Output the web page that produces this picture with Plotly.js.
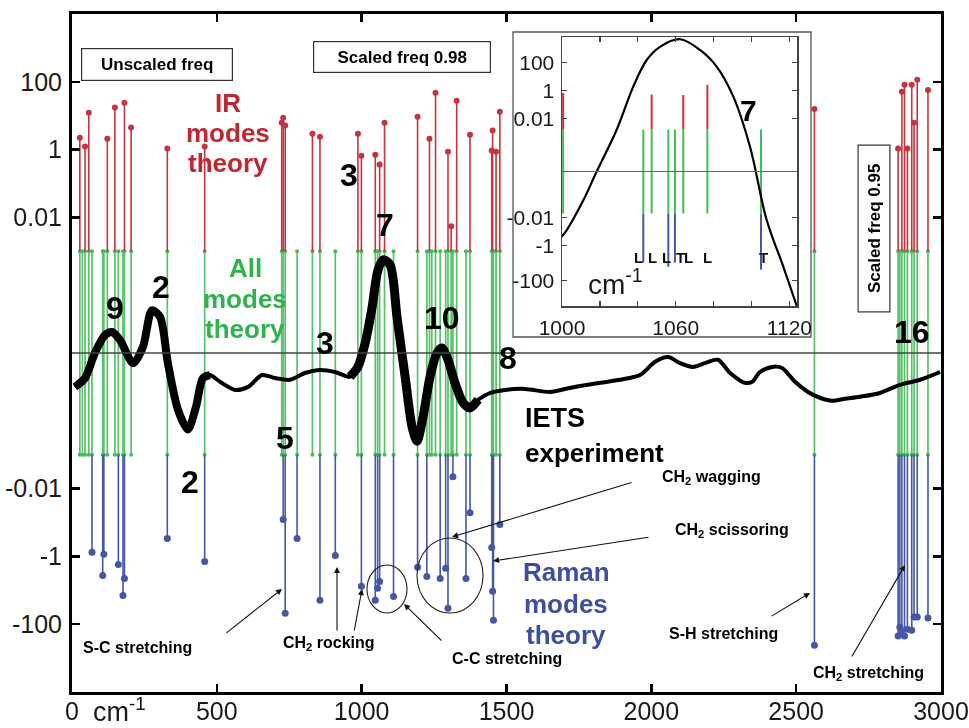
<!DOCTYPE html>
<html><head><meta charset="utf-8">
<script src="https://cdn.plot.ly/plotly-3.0.1.min.js"></script>
<style>html,body{margin:0;padding:0;background:#fff}#chart{width:969px;height:728px}</style>
</head><body><div id="chart"></div>
<script>
// ================= DATA =================
// Vibrational modes (cm^-1), log10 IR intensity and log10 Raman activity (null = not drawn)
const modeWn   = [27, 36, 45, 58, 69, 106, 110, 122, 148, 160, 176, 181, 204, 329, 458,
                  724, 729, 736, 777, 830, 856, 909, 987, 999, 1047, 1055, 1062, 1079, 1110,
                  1193, 1225, 1234, 1242, 1255, 1271, 1290, 1298, 1309, 1315, 1328, 1360, 1374,
                  1449, 1452, 1455, 1464, 1477, 2563,
                  2852, 2858, 2865, 2874, 2884, 2899, 2907, 2918, 2955];
const irLog    = [0.35, null, 0.09, 1.09, null, null, null, 0.32, 1.24, null, null, 1.38, 0.65, 0.03, 0.09,
                  0.79, 0.94, 0.71, null, 0.47, 0.38, null, 0.47, -0.18, -0.15, null, -0.44, 0.79, null,
                  0.97, null, 0.32, null, 1.68, null, null, -0.06, -2.26, null, 1.44, null, 0.44,
                  -0.03, 0.56, null, -0.06, 1.12, 1.2,
                  0.03, null, 1.71, 1.91, 0.03, 1.91, 0.79, 2.06, 1.76];
const ramanLog = [null, null, null, null, -0.12, 0.56, -0.06, null, null, 0.24, 1.15, 0.65, null, -0.53, 0.15,
                  null, -1.09, 1.68, -0.53, null, 1.29, -0.03, null, 0.88, 1.29, 0.94, 0.74, null, 1.18,
                  0.32, 0.59, null, null, null, 0.65, 0.35, 1.53, null, -2.35, null, 0.65, -1.29,
                  -0.26, 1.03, 1.88, null, -0.94, 2.62,
                  2.35, 2.09, 2.2, 2.35, 2.15, 2.18, 1.79, 1.79, 1.82];

// IETS experiment (arbitrary units)
const ietsWn = [10, 45, 79, 114, 138, 166, 211, 245, 276, 304, 331, 366, 400, 428, 452, 476, 511, 563, 608,
                656, 701, 753, 804, 856, 908, 960, 987, 1012, 1036, 1056, 1074, 1098, 1122, 1150, 1174,
                1191, 1212, 1236, 1260, 1277, 1298, 1322, 1350, 1374, 1402, 1443, 1495, 1564, 1650, 1719,
                1823, 1892, 1961, 2013, 2058, 2099, 2144, 2185, 2230, 2272, 2323, 2348, 2375, 2417, 2451,
                2496, 2541, 2582, 2624, 2669, 2720, 2789, 2858, 2928, 2997];
const ietsSignal = [-1.0, -0.74, 0.0, 0.53, 0.62, 0.38, -0.30, 0.18, 1.26, 1.06, -0.30, -1.68, -2.26, -1.59,
                -0.74, -0.65, -0.85, -1.09, -1.0, -0.65, -0.74, -0.79, -0.59, -0.50, -0.56, -0.70, -0.41,
                0.29, 1.35, 2.44, 2.75, 2.6, 1.06, -0.70, -2.18, -2.6, -1.88, -0.70, 0.0, 0.15, -0.20,
                -0.88, -1.47, -1.62, -1.38, -1.18, -1.09, -1.06, -1.15, -1.03, -0.88, -0.79, -0.65, -0.26,
                -0.12, -0.30, -0.41, -0.30, -0.20, -0.59, -0.88, -0.85, -0.56, -0.41, -0.44, -0.85, -1.15,
                -1.32, -1.41, -1.35, -1.29, -1.18, -0.94, -0.79, -0.56];

// Inset (1000-1120 cm^-1)
const insetModeWn    = [1000.6, 1042.9, 1047.3, 1056.1, 1059.6, 1064, 1076.7, 1105];
const insetIrLog     = [-0.4, null, -0.5, null, null, -0.54, 0.18, null];
const insetRamanLog  = [null, 0.5, null, 0.8, 0.5, null, null, 1.0];
const insetLabelWn   = [1040.6, 1047.5, 1055.4, 1062.3, 1067.0, 1077.0, 1106.3];
const insetLabelText = ['L', 'L', 'L', 'T', 'L', 'L', 'T'];
const insetWn     = [999.8, 1002.5, 1011.3, 1018.3, 1028.8, 1037.6, 1044.7, 1051.7, 1062.3, 1072.8,
                     1081.6, 1090.4, 1099.2, 1108, 1116.8, 1123.9];
const insetSignal = [-4.66, -4.18, -2.04, 0, 2.96, 6.06, 7.96, 8.9, 9.44, 8.68, 7.49, 5.34, 1.77, -3.46,
                     -6.8, -9.6];

// Tick labels
const xTickVals = [0, 500, 1000, 1500, 2000, 2500, 3000];
const yTickValues = [100, 1, 0.01, -0.01, -1, -100];
const insetXTickVals = [1000, 1020, 1040, 1060, 1080, 1100, 1120];
const insetXTickText = ['1000', '', '', '1060', '', '', '1120'];

// ================= MAPPING (split log display) =================
const irU = l => 6 + l;        // IR band (above)
const ramanU = l => -6 - l;    // Raman band (below)
const tickU = v => v > 0 ? irU(Math.log10(v)) : ramanU(Math.log10(-v));

const RED = '#c93340', GREEN = '#45bb5a', BLUE = '#4556a8';
const FONT = 'Liberation Sans, Arial, Helvetica, sans-serif';

function stemTrace(xs, ys0, ys1, color, width, xa, ya, opacity) {
  const x = [], y = [];
  xs.forEach((w, i) => {
    if (ys1[i] === null) return;
    x.push(w, w, null); y.push(ys0[i], ys1[i], null);
  });
  return {type: 'scatter', mode: 'lines', x, y, xaxis: xa, yaxis: ya,
          line: {color, width}, opacity: opacity || 1, hoverinfo: 'skip', showlegend: false};
}
function dotTrace(xs, ys, color, size, xa, ya) {
  const x = [], y = [];
  xs.forEach((w, i) => { if (ys[i] !== null) { x.push(w); y.push(ys[i]); } });
  return {type: 'scatter', mode: 'markers', x, y, xaxis: xa, yaxis: ya, cliponaxis: false,
          marker: {color, size, line: {width: 0}}, hoverinfo: 'skip', showlegend: false};
}

const traces = [];
// ---- main: all modes (green) ----
const gTop = modeWn.map(() => 3), gBot = modeWn.map(() => -3);
traces.push(stemTrace(modeWn, gBot, gTop, GREEN, 1.7, 'x', 'y', 0.9));
traces.push(dotTrace(modeWn, gTop, GREEN, 4, 'x', 'y'));
traces.push(dotTrace(modeWn, gBot, GREEN, 4, 'x', 'y'));
// IR (red)
const irTop = irLog.map(l => l === null ? null : irU(l));
traces.push(stemTrace(modeWn, gTop, irTop, RED, 1.6, 'x', 'y'));
traces.push(dotTrace(modeWn, irTop, RED, 6, 'x', 'y'));
// Raman (blue)
const raBot = ramanLog.map(l => l === null ? null : ramanU(l));
traces.push(stemTrace(modeWn, gBot, raBot, BLUE, 1.6, 'x', 'y'));
traces.push(dotTrace(modeWn, raBot, BLUE, 7, 'x', 'y'));
// IETS curve
traces.push({type: 'scatter', mode: 'lines', x: ietsWn, y: ietsSignal, xaxis: 'x', yaxis: 'y',
  line: {color: '#000', width: 4, shape: 'spline', smoothing: 0.8}, hoverinfo: 'skip', showlegend: false});
function subCurve(lo, hi, width) {
  const x = [], y = [];
  ietsWn.forEach((w, i) => { if (w >= lo && w <= hi) { x.push(w); y.push(ietsSignal[i]); } });
  traces.push({type: 'scatter', mode: 'lines', x, y, xaxis: 'x', yaxis: 'y',
    line: {color: '#000', width, shape: 'spline', smoothing: 0.8}, hoverinfo: 'skip', showlegend: false});
}
subCurve(0, 480, 8);
subCurve(960, 1410, 9);

// ---- inset ----
const iTop = insetModeWn.map(() => 3), iBot = insetModeWn.map(() => -3);
traces.push(stemTrace(insetModeWn, iBot, iTop, GREEN, 2, 'x2', 'y2'));
traces.push(stemTrace(insetModeWn, iTop, insetIrLog.map(l => l === null ? null : irU(l)), RED, 2, 'x2', 'y2'));
traces.push(stemTrace(insetModeWn, iBot, insetRamanLog.map(l => l === null ? null : ramanU(l)), BLUE, 2, 'x2', 'y2'));
traces.push({type: 'scatter', mode: 'lines', x: insetWn, y: insetSignal, xaxis: 'x2', yaxis: 'y2',
  line: {color: '#000', width: 2.2, shape: 'spline', smoothing: 1}, hoverinfo: 'skip', showlegend: false});

// ================= LAYOUT =================
const W = 969, H = 728, ML = 72, MR = 28, MT = 14, MB = 36;
const PW = W - ML - MR, PH = H - MT - MB;
const px = x => (x - ML) / PW;
const py = y => (H - MB - y) / PH;

const ann = [];
function txt(x, y, text, size, color, opts) {
  ann.push(Object.assign({xref: 'paper', yref: 'paper', x: px(x), y: py(y), text,
    showarrow: false, xanchor: 'center', yanchor: 'middle',
    font: {family: FONT, size, color: color || '#000'}}, opts || {}));
}
function arrow(tx, ty, hx, hy) {
  ann.push({xref: 'paper', yref: 'paper', x: px(hx), y: py(hy), ax: tx - hx, ay: ty - hy,
    text: '', showarrow: true, arrowhead: 2, arrowsize: 1.1, arrowwidth: 1.1, arrowcolor: '#111'});
}
// boxes
txt(157, 64.5, '<b>Unscaled freq</b>', 17, '#000', {bordercolor: '#333', borderwidth: 1.2, borderpad: 0, bgcolor: '#fff', width: 150, height: 31});
txt(401.5, 57, '<b>Scaled freq 0.98</b>', 17, '#000', {bordercolor: '#333', borderwidth: 1.2, borderpad: 0, bgcolor: '#fff', width: 176, height: 30});
txt(874.5, 229, '<b>Scaled freq 0.95</b>', 17, '#000', {bordercolor: '#333', borderwidth: 1.2, borderpad: 0, bgcolor: '#fff', width: 166, height: 31, textangle: -90});
// band labels
['IR', 'modes', 'theory'].forEach((t, i) => txt(228, 103 + i * 30, '<b>' + t + '</b>', 26, '#c3262f'));
['All', 'modes', 'theory'].forEach((t, i) => txt(245, 268 + i * 30.5, '<b>' + t + '</b>', 26, '#2fb34d'));
['Raman', 'modes', 'theory'].forEach((t, i) => txt(566, 572 + i * 31.5, '<b>' + t + '</b>', 26, '#3d4fa3'));
txt(523, 418, '<b>IETS</b>', 27, '#000', {xanchor: 'left'});
txt(523, 453, '<b>experiment</b>', 26, '#000', {xanchor: 'left'});
// peak numbers
[[115, 308, '9'], [161, 287, '2'], [190, 482, '2'], [285, 438, '5'], [349, 175, '3'], [325, 343, '3'],
 [385, 225, '7'], [442, 318, '10'], [508, 358, '8'], [912, 332, '16']].forEach(p => txt(p[0], p[1], '<b>' + p[2] + '</b>', 32));
// mode assignment labels
txt(137, 647, '<b>S-C stretching</b>', 16);
txt(329, 643, '<b>CH<sub>2</sub> rocking</b>', 16);
txt(507, 658, '<b>C-C stretching</b>', 16);
txt(711, 477, '<b>CH<sub>2</sub> wagging</b>', 16);
txt(732, 530, '<b>CH<sub>2</sub> scissoring</b>', 16);
txt(723, 633, '<b>S-H stretching</b>', 16);
txt(868, 673, '<b>CH<sub>2</sub> stretching</b>', 16);
arrow(225, 634, 282, 589);
arrow(337, 632, 337, 567);
arrow(354, 632, 362, 589);
arrow(443, 642, 404, 604);
arrow(633, 482, 452, 537);
arrow(650, 537, 493, 561);
arrow(770, 617, 810, 593);
arrow(851, 658, 905, 565);
// x-axis unit
txt(119, 710, 'cm<sup>-1</sup>', 27, '#1a1a1a');
// inset texts
txt(748, 110, '<b>7</b>', 30);
txt(615, 282, 'cm<sup>-1</sup>', 28, '#1a1a1a');
insetLabelWn.forEach((w, i) => {
  ann.push({xref: 'x2', yref: 'paper', x: w, y: py(257), text: '<b>' + insetLabelText[i] + '</b>',
    showarrow: false, font: {family: FONT, size: 15, color: '#111'}});
});

const shapes = [
  // inset outer frame
  {type: 'rect', xref: 'paper', yref: 'paper', x0: px(513), x1: px(811), y0: py(337), y1: py(32),
   line: {color: '#555', width: 1.3}, fillcolor: '#fff', layer: 'below'},
  // main zero line
  {type: 'line', xref: 'x', yref: 'y', x0: 0, x1: 3000, y0: 0, y1: 0, line: {color: '#444', width: 1.3}},
  // inset zero line
  {type: 'line', xref: 'x2', yref: 'y2', x0: 1000, x1: 1124, y0: 0, y1: 0, line: {color: '#666', width: 1.2}},
  // circles
  {type: 'circle', xref: 'paper', yref: 'paper', x0: px(367), x1: px(407), y0: py(613), y1: py(565),
   line: {color: '#222', width: 1.1}},
  {type: 'circle', xref: 'paper', yref: 'paper', x0: px(417), x1: px(483), y0: py(613), y1: py(538),
   line: {color: '#222', width: 1.1}}
];

const layout = {
  width: W, height: H,
  margin: {l: ML, r: MR, t: MT, b: MB, pad: 0},
  paper_bgcolor: '#fff', plot_bgcolor: 'rgba(0,0,0,0)',
  showlegend: false,
  font: {family: FONT, color: '#1a1a1a'},
  xaxis: {range: [0, 3000], tickvals: xTickVals, ticktext: xTickVals.map(String),
    showgrid: false, zeroline: false, showline: true, linecolor: '#000', linewidth: 3, mirror: 'ticks',
    ticks: 'inside', ticklen: 8, tickwidth: 2.5, tickcolor: '#000', ticklabelstandoff: -5,
    tickfont: {family: FONT, size: 25, color: '#1a1a1a'}},
  yaxis: {range: [-10, 10], tickvals: yTickValues.map(tickU), ticktext: yTickValues.map(String),
    showgrid: false, zeroline: false, showline: true, linecolor: '#000', linewidth: 3, mirror: 'ticks',
    ticks: 'inside', ticklen: 8, tickwidth: 2.5, tickcolor: '#000', ticklabelstandoff: 2,
    tickfont: {family: FONT, size: 25, color: '#1a1a1a'}},
  xaxis2: {domain: [px(562), px(797)], anchor: 'y2', range: [1000, 1124],
    tickvals: insetXTickVals, ticktext: insetXTickText,
    showgrid: false, zeroline: false, showline: true, linecolor: '#444', linewidth: 1.5, mirror: 'ticks',
    ticks: 'inside', ticklen: 5, tickwidth: 1.2, tickcolor: '#444', ticklabelstandoff: 2,
    tickfont: {family: FONT, size: 21, color: '#1a1a1a'}},
  yaxis2: {domain: [py(306), py(37)], anchor: 'x2', range: [-9.6, 9.6],
    tickvals: [7.8, 5.8, 3.8, -3.3, -5.3, -7.8], ticktext: yTickValues.map(String),
    showgrid: false, zeroline: false, showline: true, linecolor: '#444', linewidth: 1.5, mirror: 'ticks',
    ticks: 'inside', ticklen: 5, tickwidth: 1.2, tickcolor: '#444', ticklabelstandoff: 2,
    tickfont: {family: FONT, size: 21, color: '#1a1a1a'}},
  annotations: ann,
  shapes: shapes
};

Plotly.newPlot('chart', traces, layout, {staticPlot: true, displayModeBar: false});
</script>
</body></html>
